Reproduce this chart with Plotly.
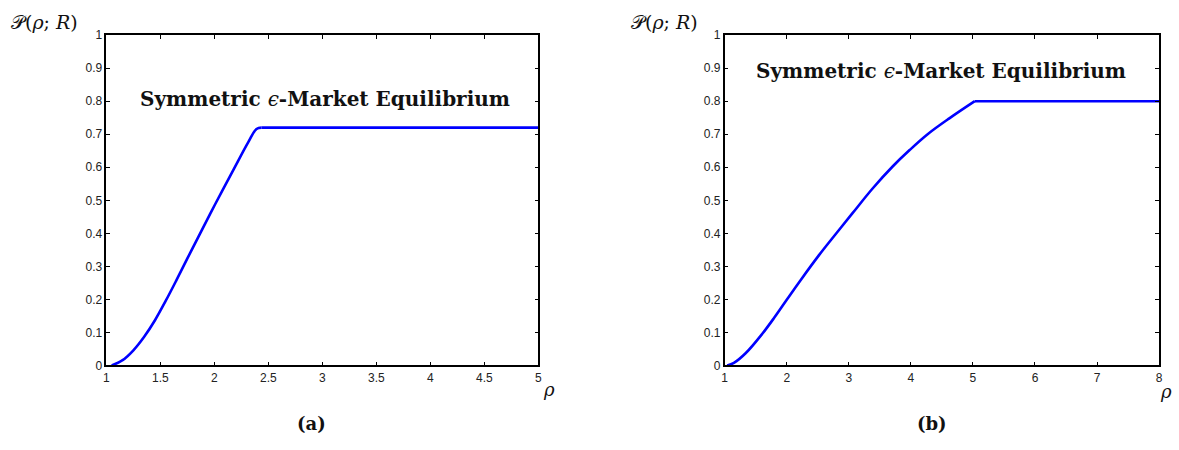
import plotly.graph_objects as go

# Panel (a)
rho_a = [1.049, 1.15, 1.25, 1.35, 1.45, 1.55, 1.65, 1.75, 1.853, 2.007, 2.176, 2.314, 2.39, 2.436, 3.0, 4.0, 5.0]
p_a = [0.0, 0.016, 0.046, 0.087, 0.137, 0.196, 0.259, 0.324, 0.390, 0.488, 0.592, 0.676, 0.716, 0.72, 0.72, 0.72, 0.72]
kink_a = 13  # index of the corner where the curve becomes flat

# Panel (b)
rho_b = [1.04, 1.149, 1.337, 1.606, 1.80, 2.0, 2.226, 2.52, 2.79, 3.06, 3.38, 3.71, 3.98, 4.27, 4.62, 5.03, 6.0, 7.0, 8.0]
p_b = [0.0, 0.008, 0.037, 0.096, 0.145, 0.199, 0.259, 0.334, 0.398, 0.461, 0.535, 0.603, 0.652, 0.70, 0.748, 0.80, 0.80, 0.80, 0.80]
kink_b = 15

title_text = "<b>Symmetric </b><i>ϵ</i><b>-Market Equilibrium</b>"
ylabel = "𝒫(<i>ρ</i>; <i>R</i>)"
xlabel = "<i>ρ</i>"

W, H = 1179, 450
def px(x):
    return x / W
def py(y):
    return 1 - y / H

fig = go.Figure()
for xs, ys, k, xa, ya in [(rho_a, p_a, kink_a, "x", "y"), (rho_b, p_b, kink_b, "x2", "y2")]:
    fig.add_trace(go.Scatter(x=xs[:k + 1], y=ys[:k + 1], mode="lines",
                             line=dict(color="#0000ff", width=2.6, shape="spline", smoothing=1.0),
                             xaxis=xa, yaxis=ya, showlegend=False, hoverinfo="skip"))
    fig.add_trace(go.Scatter(x=xs[k:], y=ys[k:], mode="lines",
                             line=dict(color="#0000ff", width=2.6),
                             xaxis=xa, yaxis=ya, showlegend=False, hoverinfo="skip"))

tickfont = dict(family="Liberation Sans, Arial, sans-serif", size=12, color="#222")
axcommon = dict(showline=True, linecolor="black", linewidth=1.5, mirror="ticks", ticks="inside",
                ticklen=4, tickcolor="black", showgrid=False, zeroline=False, tickfont=tickfont)

ydom = [py(370), py(29)]
fig.update_layout(
    width=W, height=H,
    margin=dict(l=0, r=0, t=0, b=0),
    paper_bgcolor="white", plot_bgcolor="white",
    xaxis=dict(domain=[px(104), px(538.6)], range=[1, 5], dtick=0.5, tick0=1, anchor="y", **axcommon),
    yaxis=dict(domain=ydom, range=[0, 1], dtick=0.1, tick0=0, anchor="x", **axcommon),
    xaxis2=dict(domain=[px(726), px(1163)], range=[1, 8], dtick=1, tick0=1, anchor="y2", **axcommon),
    yaxis2=dict(domain=ydom, range=[0, 1], dtick=0.1, tick0=0, anchor="x2", **axcommon),
)

serif = "DejaVu Serif, Liberation Serif, serif"
ann = []
ann.append(dict(text=title_text, x=px(323.5), y=py(95), xref="paper", yref="paper", showarrow=False,
                font=dict(family=serif, size=20, color="#111"), xanchor="center", yanchor="middle"))
ann.append(dict(text=title_text, x=px(944), y=py(66), xref="paper", yref="paper", showarrow=False,
                font=dict(family=serif, size=20, color="#111"), xanchor="center", yanchor="middle"))
for xl, yl in [(42, 15), (665, 15)]:
    ann.append(dict(text=ylabel, x=px(xl), y=py(yl), xref="paper", yref="paper", showarrow=False,
                    font=dict(family=serif, size=19, color="#111"), xanchor="center", yanchor="middle"))
for xl, yl in [(549, 395), (1170, 397)]:
    ann.append(dict(text=xlabel, x=px(xl), y=py(yl), xref="paper", yref="paper", showarrow=False,
                    font=dict(family=serif, size=18, color="#111"), xanchor="center", yanchor="middle"))
for t, xl in [("<b>(a)</b>", 310), ("<b>(b)</b>", 935)]:
    ann.append(dict(text=t, x=px(xl), y=py(430), xref="paper", yref="paper", showarrow=False,
                    font=dict(family=serif, size=18, color="#111"), xanchor="center", yanchor="middle"))
fig.update_layout(annotations=ann)

fig.write_html(
    "out.html",
    config={"displayModeBar": False},
    post_script=(
        "document.documentElement.style.margin='0';document.documentElement.style.overflow='hidden';"
        "document.documentElement.style.height='450px';"
        "document.body.style.margin='0';document.body.style.overflow='hidden';document.body.style.height='450px';"
    ),
)
